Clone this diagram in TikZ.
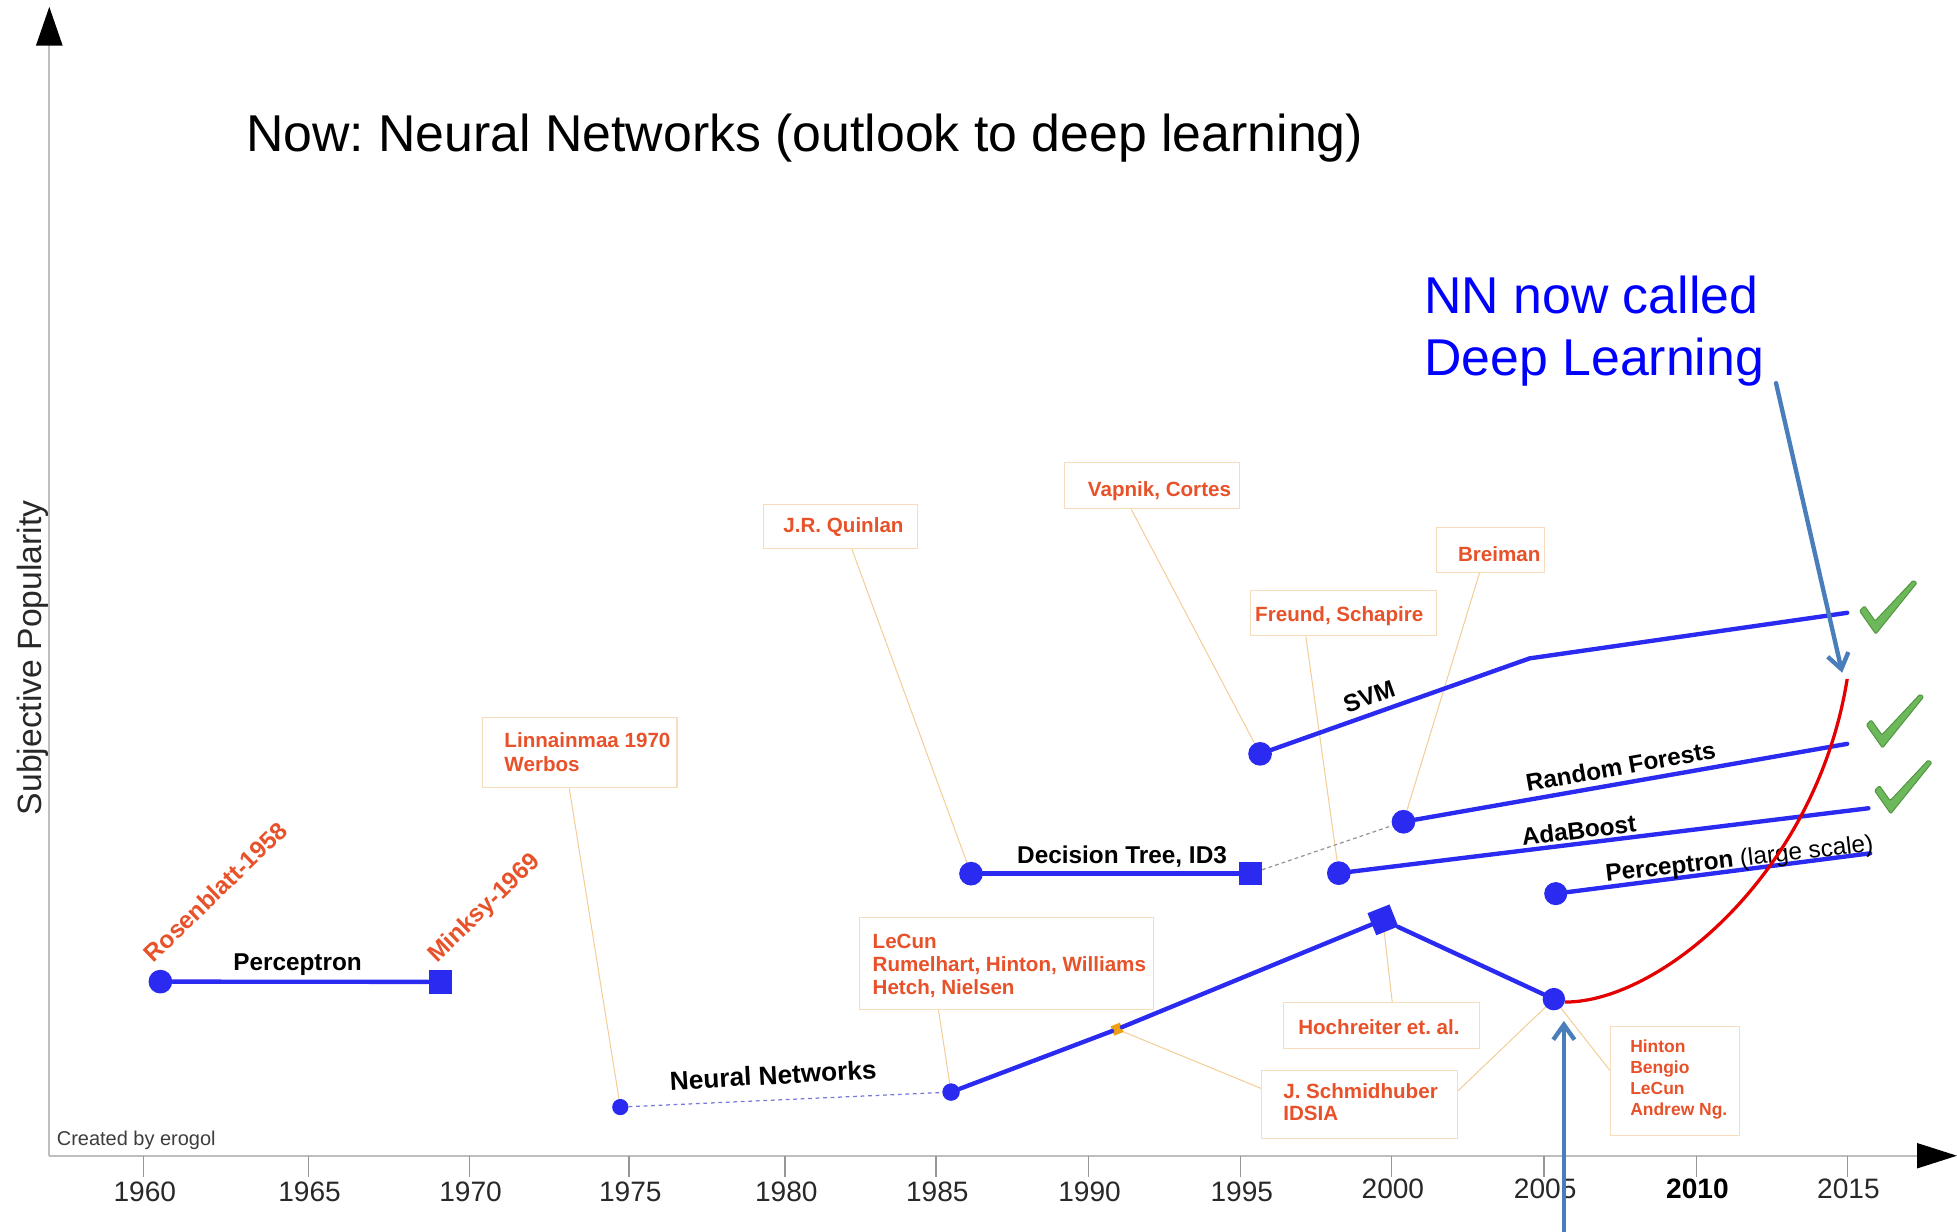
\documentclass[tikz,border=0pt]{standalone}
\usepackage{fontspec}
\setmainfont{Liberation Sans}
\usetikzlibrary{arrows.meta,calc,backgrounds}
\frenchspacing

\definecolor{nnblue}{RGB}{42,42,240}
\definecolor{refred}{RGB}{232,82,42}
\definecolor{boxedge}{RGB}{248,220,188}
\definecolor{leadc}{RGB}{243,205,150}
\definecolor{markorange}{RGB}{240,160,20}
\definecolor{annblue}{RGB}{74,126,187}
\definecolor{dlred}{RGB}{228,0,0}
\definecolor{checkfill}{RGB}{108,184,90}
\definecolor{checkedge}{RGB}{82,150,66}
\definecolor{axisgray}{RGB}{190,190,190}
\definecolor{tickgray}{RGB}{150,150,150}
\definecolor{labgray}{RGB}{40,40,40}
\definecolor{dotblue}{RGB}{120,120,220}

\newcommand\setfs[1]{\fontsize{#1}{#1}\selectfont}

\tikzset{
  tickmark/.pic={
    \filldraw[fill=checkfill,draw=checkedge,line width=0.8pt,line join=round,rounded corners=1pt]
      (-12.5,-17.5) -- (-8.5,-21.5) -- (0,-9.5) -- (30.5,-42) -- (33.5,-40) -- (0.5,1) -- cycle;
  }
}

\begin{document}
\begin{tikzpicture}[x=1pt,y=-1pt,
  dot/.style={circle,fill=nnblue,draw=none,inner sep=0pt,minimum size=19pt},
  sdot/.style={dot,minimum size=13pt},
  sqmark/.style={rectangle,fill=nnblue,inner sep=0pt,minimum size=19pt},
  trend/.style={nnblue,line width=3.5pt,line cap=round,line join=round},
  refbox/.style={rectangle,draw=boxedge,line width=0.9pt,fill=white,inner sep=0pt,anchor=north west},
  reftext/.style={text=refred,font=\bfseries\setfs{16.5},inner sep=0pt,anchor=base west},
  smalltext/.style={reftext,font=\bfseries\setfs{14}},
  blab/.style={font=\bfseries\setfs{19.5},inner sep=0pt,text=black},
  leader/.style={leadc,line width=0.8pt},
  axisline/.style={axisgray,line width=1.5pt},
  ticklbl/.style={font=\setfs{22.5},text=labgray,inner sep=0pt,anchor=base},
  callout/.style={annblue,line width=3.5pt,line cap=round,
    -{Straight Barb[length=12pt,width=17pt,line width=3.5pt]}},
  bigblue/.style={font=\setfs{41.5},text=blue,inner sep=0pt,anchor=base west}
]
\useasboundingbox (0,0) rectangle (1568,987);

% axes
\coordinate (O) at (39.5,926);
\coordinate (ytop) at (39.5,5.5);
\coordinate (xend) at (1568,926);
\draw[axisline,-{Triangle[length=31pt,width=21pt,black]}] (O) -- (ytop);
\draw[axisline,-{Triangle[length=32pt,width=20pt,black]}] (O) -- (xend);

\foreach \xx/\yr/\yb in {115/1960/963,247/1965/963,376/1970/963,504/1975/963,
                         629/1980/963,750/1985/963,872/1990/963,994/1995/963,
                         1115/2000/960,1237/2005/960,1480/2015/960}{
  \draw[tickgray,line width=1pt] (\xx,926) -- (\xx,943);
  \node[ticklbl] (yr\yr) at (\xx+1,\yb) {\yr};
}
\draw[tickgray,line width=1pt] (1359,926) -- (1359,943);
\node[ticklbl,text=black,font=\bfseries\setfs{22.5}] (yr2010) at (1360,960) {2010};

\node[font=\setfs{27},text=labgray,rotate=90,anchor=base,inner sep=0pt] (ylabel) at (33.4,527) {Subjective Popularity};
\node[font=\setfs{16},text=labgray!90,anchor=base west,inner sep=0pt] (credit) at (45.4,918) {Created by erogol};

% title and headline
\node[font=\setfs{41.5},text=black,inner sep=0pt,anchor=base west] (title) at (197,121) {Now: Neural Networks (outlook to deep learning)};
\node[bigblue] (dlA) at (1141,251) {NN now called};
\node[bigblue] (dlB) at (1141,300.6) {Deep Learning};

% reference boxes
\node[refbox,minimum width=156pt,minimum height=56.4pt] (bLinn) at (386,574.4) {};
\node[reftext] (tLinnA) at (404,598.9) {Linnainmaa 1970};
\node[reftext] (tLinnB) at (404,617.8) {Werbos};

\node[refbox,minimum width=123pt,minimum height=35pt] (bQuin) at (611.5,404) {};
\node[reftext] (tQuin) at (627.5,427) {J.R. Quinlan};

\node[refbox,minimum width=140.4pt,minimum height=37pt] (bVap) at (852.6,370) {};
\node[reftext] (tVap) at (871.5,398) {Vapnik, Cortes};

\node[refbox,minimum width=149pt,minimum height=36pt] (bFre) at (1001.6,473) {};
\node[reftext] (tFre) at (1005.5,498) {Freund, Schapire};

\node[refbox,minimum width=86.5pt,minimum height=36pt] (bBre) at (1150.5,422) {};
\node[reftext] (tBre) at (1168,449.5) {Breiman};

\node[refbox,minimum width=236pt,minimum height=73.5pt] (bLeC) at (688,735) {};
\node[reftext] (tLeCA) at (699,760) {LeCun};
\node[reftext] (tLeCB) at (699,778) {Rumelhart, Hinton, Williams};
\node[reftext] (tLeCC) at (699,796.5) {Hetch, Nielsen};

\node[refbox,minimum width=157pt,minimum height=36.5pt] (bHoc) at (1028,803) {};
\node[reftext] (tHoc) at (1040,828.6) {Hochreiter et. al.};

\node[refbox,minimum width=157pt,minimum height=55pt] (bSch) at (1010.5,857) {};
\node[reftext] (tSchA) at (1028,880) {J. Schmidhuber};
\node[reftext] (tSchB) at (1028,898) {IDSIA};

\node[refbox,minimum width=103pt,minimum height=87.5pt] (bHin) at (1290,822) {};
\node[smalltext] (tHinA) at (1306,843.5) {Hinton};
\node[smalltext] (tHinB) at (1306,860.2) {Bengio};
\node[smalltext] (tHinC) at (1306,876.9) {LeCun};
\node[smalltext] (tHinD) at (1306,893.6) {Andrew Ng.};

% markers
\node[dot] (p1) at (128.5,786.5) {};
\node[sqmark] (p2) at (353,786.7) {};
\node[sdot] (nn0) at (497,887) {};
\node[sdot,minimum size=14pt] (nn1) at (762,875) {};
\node[rectangle,fill=markorange,inner sep=0pt,minimum size=8pt,rotate=21.7] (nnO) at (895,824.6) {};
\node[sqmark,rotate=21.7] (nn3) at (1108,737) {};
\node[dot,minimum size=18pt] (nn4) at (1245,800.5) {};
\node[dot] (dt1) at (778,700) {};
\node[sqmark,minimum size=18pt] (dt2) at (1002,700) {};
\node[dot] (svm1) at (1009.6,604) {};
\node[dot] (rf1) at (1124.5,658.4) {};
\node[dot] (ada1) at (1072.7,699.6) {};
\node[dot,minimum size=18.5pt] (pls1) at (1246.5,716) {};
\coordinate (svmK) at (1225.6,527.5);
\coordinate (svmE) at (1480,491);
\coordinate (rfE) at (1480,596);
\coordinate (adaE) at (1497,647.6);
\coordinate (plsE) at (1498.4,683.7);
\coordinate (dlE) at (1480,544);

% trend lines
\draw[trend] (p1) -- (p2);
\draw[dotblue,line width=1pt,dash pattern=on 3pt off 3pt] (nn0) -- (nn1);
\draw[trend] (nn1) -- (nnO) -- (nn3) -- (nn4);
\draw[trend] (dt1) -- (dt2);
\draw[tickgray,line width=1pt,dash pattern=on 3pt off 2.5pt] (dt2) -- (rf1);
\draw[trend] (svm1) -- (svmK) -- (svmE);
\draw[trend] (rf1) -- (rfE);
\draw[trend] (ada1) -- (adaE);
\draw[trend] (pls1) -- (plsE);

% trend labels
\node[blab,anchor=base] (percLbl) at (238.4,777.7) {Perceptron};
\node[blab,text=refred,rotate=44,anchor=base west] (rosen) at (123,772) {Rosenblatt-1958};
\node[blab,text=refred,rotate=44,anchor=base west] (minsky) at (350,772) {Minksy-1969};
\node[blab,font=\bfseries\setfs{21},rotate=3.2,anchor=base west] (nnLbl) at (537,873.4) {Neural Networks};
\node[blab,anchor=base] (dtLbl) at (899,691.7) {Decision Tree, ID3};
\node[blab,rotate=19.7] (svmLbl) at (1097,558) {SVM};
\node[blab,rotate=10] (rfLbl) at (1298.5,614) {Random Forests};
\node[blab,rotate=7] (adaLbl) at (1265,665) {AdaBoost};
\node[blab,rotate=6.5,anchor=base west] (plsLbl) at (1287,706.5) {Perceptron {\mdseries(large scale)}};

% deep learning curve
\draw[dlred,line width=2.6pt] (nn4.-15) .. controls (1330,803) and (1455,700) .. (dlE);

% call-out arrows
\coordinate (dlFrom) at (1423,307);
\coordinate (dlTip) at (1476,539);
\draw[callout] (dlFrom) -- (dlTip);
\coordinate (upFrom) at (1253,990);
\coordinate (upTip) at (1253,818);
\draw[callout] (upFrom) -- (upTip);

% check marks
\pic at (1502.4,507) {tickmark};
\pic at (1507.8,598.3) {tickmark};
\pic at (1514.4,651) {tickmark};

% leader lines from the reference boxes
\begin{pgfonlayer}{background}
\draw[leader] ($(bLinn.south west)!0.447!(bLinn.south east)$) -- (nn0.center);
\draw[leader] ($(bQuin.south west)!0.573!(bQuin.south east)$) -- (dt1.center);
\draw[leader] ($(bVap.south west)!0.38!(bVap.south east)$) -- (svm1.center);
\draw[leader] ($(bFre.south west)!0.298!(bFre.south east)$) -- (ada1.center);
\draw[leader] ($(bBre.south west)!0.4!(bBre.south east)$) -- (rf1.center);
\draw[leader] ($(bLeC.south west)!0.27!(bLeC.south east)$) -- (nn1.center);
\draw[leader] ($(bHoc.north west)!0.554!(bHoc.north east)$) -- (nn3.center);
\draw[leader] ($(bSch.north west)!0.27!(bSch.south west)$) -- (nnO.center);
\draw[leader] ($(bSch.north east)!0.3!(bSch.south east)$) -- (nn4.center);
\draw[leader] ($(bHin.north west)!0.405!(bHin.south west)$) -- (nn4.center);
\end{pgfonlayer}
\end{tikzpicture}
\end{document}
